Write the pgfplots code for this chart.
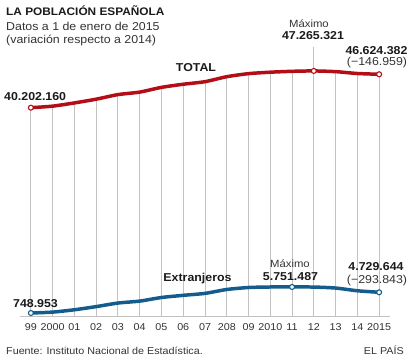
\documentclass[border=0pt]{standalone}
\usepackage{fontspec}
\setmainfont[FakeStretch=1.08]{Liberation Sans}
\usepackage{pgfplots}
\usepackage{pgfplotstable}
\pgfplotsset{compat=1.18}

\definecolor{rojo}{HTML}{B30D16}
\definecolor{azul}{HTML}{145C8E}
\definecolor{gridc}{HTML}{C2C2C2}
\definecolor{txt}{HTML}{1A1A1A}
\definecolor{txtg}{HTML}{333333}

% values in millions of inhabitants
\pgfplotstableread{
year total
1999 40.202160
2000 40.499791
2001 41.116842
2002 41.837894
2003 42.717064
2004 43.197684
2005 44.108530
2006 44.708964
2007 45.200737
2008 46.157822
2009 46.745807
2010 47.021031
2011 47.190493
2012 47.265321
2013 47.129783
2014 46.771341
2015 46.624382
}\totaltab

\pgfplotstableread{
year ext
1999 0.748953
2000 0.923879
2001 1.370657
2002 1.977946
2003 2.664168
2004 3.034326
2005 3.730610
2006 4.144166
2007 4.519554
2008 5.268762
2009 5.648671
2010 5.747734
2011 5.751487
2012 5.736258
2013 5.546238
2014 5.023487
2015 4.729644
}\exttab

\begin{document}
\begin{tikzpicture}
\path[use as bounding box] (0bp,0bp) rectangle (414bp,-363bp);
\draw[gridc, line width=0.9pt] (313.8bp,-71bp) -- (313.8bp,-46.5bp);
\begin{axis}[
  at={(20bp,-316.9bp)}, anchor=south west,
  scale only axis, width=370bp, height=249.8bp,
  xmin=1998.5, xmax=2015.5, ymin=0, ymax=48,
  axis y line=none,
  axis x line*=bottom,
  x axis line style={gridc, line width=0.9pt},
  ytick=\empty,
  xtick={1999,2000,2001,2002,2003,2004,2005,2006,2007,2008,2009,2010,2011,2012,2013,2014,2015},
  xticklabels={99,2000,01,02,03,04,05,06,07,208,09,2010,11,12,13,14,2015},
  major tick length=0pt,
  xticklabel style={anchor=base, yshift=-14bp, inner sep=0pt, text=txtg, font=\fontsize{10}{12}\selectfont},
  clip=false,
]
\addplot[ycomb, gridc, line width=0.9pt, mark=none] table[x=year, y=total] {\totaltab};
\addplot[rojo, line width=3.5pt, smooth, tension=0.4,
  mark=*, mark indices={1,14,17}, mark size=2.5pt,
  mark options={solid, fill=white, draw=rojo, line width=1.1pt}]
  table[x=year, y=total] {\totaltab};
\addplot[azul, line width=3.5pt, smooth, tension=0.4,
  mark=*, mark indices={1,13,17}, mark size=2.5pt,
  mark options={solid, fill=white, draw=azul, line width=1.1pt}]
  table[x=year, y=ext] {\exttab};
\end{axis}

\begin{scope}[every node/.style={inner sep=0pt, text=txt}]
\node[anchor=base west, font=\bfseries\fontsize{11}{13}\selectfont] at (6bp,-15bp) {LA POBLACIÓN ESPAÑOLA};
\node[anchor=base west, font=\fontsize{11.5}{13}\selectfont, text=txtg] at (6bp,-30.5bp) {Datos a 1 de enero de 2015};
\node[anchor=base west, font=\fontsize{11.5}{13}\selectfont, text=txtg] at (6bp,-43.5bp) {(variación respecto a 2014)};

\node[anchor=base, font=\bfseries\fontsize{11.5}{13}\selectfont] at (196bp,-71.5bp) {TOTAL};
\node[anchor=base, font=\fontsize{10.5}{12}\selectfont, text=txtg] at (309bp,-27bp) {Máximo};
\node[anchor=base, font=\bfseries\fontsize{11.5}{13}\selectfont] at (313bp,-39bp) {47.265.321};
\node[anchor=base, font=\bfseries\fontsize{11.5}{13}\selectfont] at (376.5bp,-54.3bp) {46.624.382};
\node[anchor=base, font=\fontsize{11.5}{13}\selectfont, text=txtg] at (377bp,-65.7bp) {(−146.959)};
\node[anchor=base west, font=\bfseries\fontsize{11.5}{13}\selectfont] at (4bp,-100.7bp) {40.202.160};

\node[anchor=base, font=\bfseries\fontsize{11.5}{13}\selectfont] at (35.5bp,-307.3bp) {748.953};
\node[anchor=base, font=\bfseries\fontsize{11.5}{13}\selectfont] at (197.5bp,-281.7bp) {Extranjeros};
\node[anchor=base, font=\fontsize{10.5}{12}\selectfont, text=txtg] at (290bp,-267.3bp) {Máximo};
\node[anchor=base, font=\bfseries\fontsize{11.5}{13}\selectfont] at (290.5bp,-280.7bp) {5.751.487};
\node[anchor=base, font=\bfseries\fontsize{11.5}{13}\selectfont] at (376bp,-270.7bp) {4.729.644};
\node[anchor=base, font=\fontsize{11.5}{13}\selectfont, text=txtg] at (377bp,-283.3bp) {(−293.843)};

\node[anchor=base west, font=\fontsize{10}{12}\selectfont, text=txtg] at (6bp,-354bp) {Fuente: Instituto Nacional de Estadística.};
\node[anchor=base east, font=\fontsize{10}{12}\selectfont, text=txtg] at (404bp,-354bp) {EL PAÍS};
\end{scope}
\end{tikzpicture}
\end{document}
